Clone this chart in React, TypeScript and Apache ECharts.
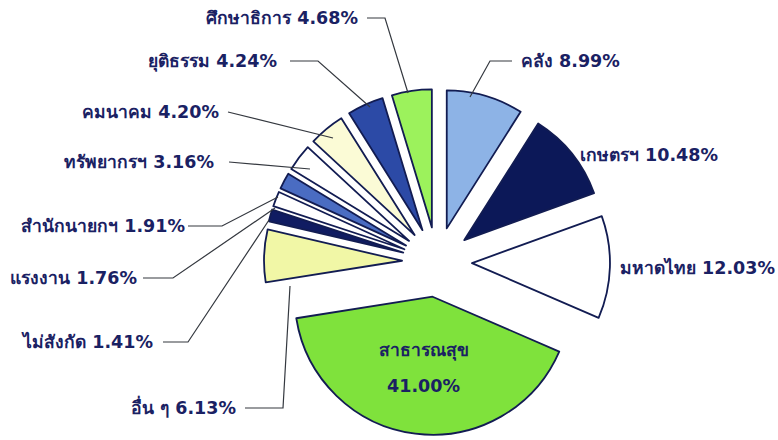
import React, { useEffect, useRef } from "react";
import * as echarts from "echarts";

const categories = [
  "คลัง",
  "เกษตรฯ",
  "มหาดไทย",
  "สาธารณสุข",
  "อื่น ๆ",
  "ไม่สังกัด",
  "แรงงาน",
  "สำนักนายกฯ",
  "ทรัพยากรฯ",
  "คมนาคม",
  "ยุติธรรม",
  "ศึกษาธิการ",
];
const values = [8.99, 10.48, 12.03, 41.0, 6.13, 1.41, 1.76, 1.91, 3.16, 4.2, 4.24, 4.68];

const colors = [
  "#8db3e6",
  "#0c1858",
  "#ffffff",
  "#7fe23c",
  "#f1f7a6",
  "#101c62",
  "#ffffff",
  "#4a6cc2",
  "#ffffff",
  "#fbfbd6",
  "#2c4aa6",
  "#9cf25c",
];

// label placement (styling only)
type LabelPos = { align: "left" | "right"; x: number; y: number; line: number[][] | null };
const labelPos: LabelPos[] = [
  { align: "left", x: 521, y: 61, line: [[512, 61], [490, 61], [470, 97]] },
  { align: "left", x: 580, y: 155, line: null },
  { align: "left", x: 620, y: 268, line: null },
  { align: "left", x: 0, y: 0, line: null },
  { align: "right", x: 236, y: 408, line: [[245, 408], [283, 408], [290, 286]] },
  { align: "right", x: 153, y: 342, line: [[163, 342], [188, 342], [269, 220]] },
  { align: "right", x: 137, y: 278, line: [[143, 278], [173, 278], [275, 208]] },
  { align: "right", x: 185, y: 226, line: [[188, 226], [222, 226], [278, 197]] },
  { align: "right", x: 214, y: 162, line: [[229, 162], [310, 169]] },
  { align: "right", x: 219, y: 112, line: [[228, 112], [333, 138]] },
  { align: "right", x: 277, y: 61, line: [[290, 61], [318, 61], [370, 107]] },
  { align: "right", x: 358, y: 18, line: [[367, 18], [385, 18], [408, 93]] },
];

const TEXT_COLOR = "#1a2163";
const FONT = "'DejaVu Sans', 'Noto Sans', sans-serif";
const CENTER = [437, 262];
const RADIUS = 138;

export default function App() {
  const ref = useRef<HTMLDivElement>(null);
  useEffect(() => {
    if (!ref.current) return;
    const chart = echarts.init(ref.current, undefined, { renderer: "svg" });
    const labelStyle = {
      color: TEXT_COLOR,
      fontFamily: FONT,
      fontWeight: "bold",
      fontSize: 17.5,
    };
    const sliceData = categories.map((name, i) => ({
      name,
      value: values[i],
      selected: true,
      itemStyle: { color: colors[i] },
      label:
        i === 3
          ? {
              show: true,
              position: "inside",
              formatter: (p: any) => `${p.name}\n${p.value.toFixed(2)}%`,
              lineHeight: 36,
              offset: [3, 22],
            }
          : { show: false },
      labelLine: { show: false },
    }));
    const labelData = categories.map((name, i) => ({
      name,
      value: values[i],
      label: { show: i !== 3 },
      labelLine: { show: labelPos[i].line !== null },
    }));
    chart.setOption({
      animation: false,
      backgroundColor: "#ffffff",
      series: [
        {
          type: "pie",
          z: 2,
          center: CENTER,
          radius: [0, RADIUS],
          startAngle: 90,
          clockwise: true,
          selectedMode: "multiple",
          selectedOffset: 35,
          avoidLabelOverlap: false,
          silent: true,
          itemStyle: { borderColor: "#121c52", borderWidth: 1.8 },
          label: labelStyle,
          emphasis: { disabled: true },
          data: sliceData,
        },
        {
          type: "pie",
          z: 3,
          center: CENTER,
          radius: [0, RADIUS],
          startAngle: 90,
          clockwise: true,
          silent: true,
          avoidLabelOverlap: false,
          itemStyle: { color: "rgba(0,0,0,0)", borderWidth: 0 },
          label: {
            ...labelStyle,
            formatter: (p: any) => `${p.name} ${p.value.toFixed(2)}%`,
          },
          labelLine: {
            show: true,
            lineStyle: { color: "#34383f", width: 1.2 },
          },
          labelLayout: (params: any) => {
            const lp = labelPos[params.dataIndex];
            const out: any = {
              x: lp.x,
              y: lp.y,
              align: lp.align,
              verticalAlign: "middle",
            };
            if (lp.line) out.labelLinePoints = lp.line;
            return out;
          },
          emphasis: { disabled: true },
          data: labelData,
        },
      ],
    });
    return () => chart.dispose();
  }, []);
  return (
    <div
      ref={ref}
      style={{ position: "absolute", left: 0, top: 0, width: 778, height: 440 }}
    />
  );
}
